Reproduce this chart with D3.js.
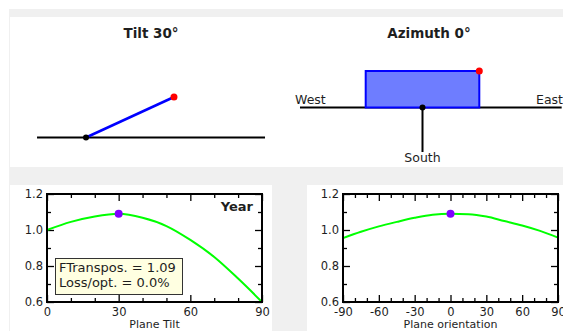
<!DOCTYPE html>
<html>
<head>
<meta charset="utf-8">
<script src="https://cdn.jsdelivr.net/npm/d3@7"></script>
<style>
  body { margin: 0; background: #fff; }
  svg { display: block; font-family: "DejaVu Sans", Verdana, sans-serif; }
</style>
</head>
<body>
<div id="chart"></div>
<script>
// plane settings
var tiltDeg = 30;
var azimuthDeg = 0;

// transposition factor vs plane tilt (Year)
var tiltX = [0, 10, 20, 30, 40, 50, 60, 70, 80, 90];
var tiltY = [1.0, 1.045, 1.075, 1.09, 1.068, 1.022, 0.945, 0.85, 0.73, 0.6];

// transposition factor vs plane orientation
var orientX = [-90, -75, -60, -45, -30, -15, 0, 15, 30, 45, 60, 75, 90];
var orientY = [0.955, 0.99, 1.02, 1.045, 1.068, 1.085, 1.09, 1.088, 1.075, 1.05, 1.025, 0.995, 0.958];

var optTilt = 30, optOrient = 0, optValue = 1.09;

var yMajor = [0.6, 0.8, 1.0, 1.2];
var yMinor = [0.7, 0.9, 1.1];
var tiltMajor = [0, 30, 60, 90];
var tiltMinor = [10, 20, 40, 50, 70, 80];
var orientMajor = [-90, -60, -30, 0, 30, 60, 90];
var orientMinor = [-80, -70, -50, -40, -20, -10, 10, 20, 40, 50, 70, 80];

var legendLines = ["FTranspos. = 1.09", "Loss/opt. = 0.0%"];

function init() {
    var w = 563, h = 331;
    var svg = d3.select("#chart").append("svg")
        .attr("width", w)
        .attr("height", h);

    // panel backgrounds
    svg.append("rect").attr("x", 9).attr("y", 9).attr("width", w - 9).attr("height", h - 9).attr("fill", "#f0f0f0");
    svg.append("rect").attr("x", 10).attr("y", 17).attr("width", w - 10).attr("height", 150).attr("fill", "#fff");
    svg.append("rect").attr("x", 10).attr("y", 185).attr("width", 262).attr("height", h - 185).attr("fill", "#fff");
    svg.append("rect").attr("x", 307).attr("y", 185).attr("width", w - 307).attr("height", h - 185).attr("fill", "#fff");

    var textCol = "#1e1e1e";

    // ---- Tilt diagram ----
    svg.append("text").attr("x", 151).attr("y", 38).attr("text-anchor", "middle")
       .attr("font-size", "13.5px").attr("font-weight", "bold").attr("fill", textCol)
       .text("Tilt " + tiltDeg + "°");

    var tx = d3.scaleLinear().domain([0, 1]).range([86, 187.6]);
    var ty = d3.scaleLinear().domain([0, 1]).range([137.5, 56.5]);
    var rad = tiltDeg * Math.PI / 180;
    svg.append("line").attr("x1", tx(-0.482)).attr("x2", tx(1.762))
       .attr("y1", ty(0)).attr("y2", ty(0)).attr("stroke", "#000").attr("stroke-width", 2);
    svg.append("line").attr("x1", tx(0)).attr("y1", ty(0))
       .attr("x2", tx(Math.cos(rad))).attr("y2", ty(Math.sin(rad)))
       .attr("stroke", "#0000ff").attr("stroke-width", 2.5);
    svg.append("circle").attr("cx", tx(0)).attr("cy", ty(0)).attr("r", 3).attr("fill", "#000");
    svg.append("circle").attr("cx", tx(Math.cos(rad))).attr("cy", ty(Math.sin(rad))).attr("r", 3.5).attr("fill", "#ff0000");

    // ---- Azimuth diagram ----
    svg.append("text").attr("x", 429).attr("y", 38).attr("text-anchor", "middle")
       .attr("font-size", "13.5px").attr("font-weight", "bold").attr("fill", textCol)
       .text("Azimuth " + azimuthDeg + "°");

    var ax = d3.scaleLinear().domain([0, 1]).range([422.5, 479.3]);
    var ay = d3.scaleLinear().domain([0, 1]).range([107.5, 71]);
    svg.append("line").attr("x1", ax(-2.157)).attr("x2", ax(2.45))
       .attr("y1", ay(0)).attr("y2", ay(0)).attr("stroke", "#000").attr("stroke-width", 2);
    svg.append("line").attr("x1", ax(0)).attr("x2", ax(0))
       .attr("y1", ay(0)).attr("y2", ay(-1.22)).attr("stroke", "#000").attr("stroke-width", 2);
    svg.append("rect").attr("x", ax(-1)).attr("y", ay(1))
       .attr("width", ax(1) - ax(-1)).attr("height", ay(0) - ay(1))
       .attr("fill", "#6e7dff").attr("stroke", "#0000ff").attr("stroke-width", 2);
    svg.append("circle").attr("cx", ax(0)).attr("cy", ay(0)).attr("r", 3).attr("fill", "#000");
    svg.append("circle").attr("cx", ax(1)).attr("cy", ay(1)).attr("r", 3.5).attr("fill", "#ff0000");
    svg.append("text").attr("x", 295).attr("y", 104).attr("font-size", "12.5px").attr("fill", textCol).text("West");
    svg.append("text").attr("x", 536).attr("y", 104).attr("font-size", "12.5px").attr("fill", textCol).text("East");
    svg.append("text").attr("x", ax(0)).attr("y", 162).attr("text-anchor", "middle")
       .attr("font-size", "12.5px").attr("fill", textCol).text("South");

    // ---- factor plots ----
    var yScale = d3.scaleLinear().domain([0.6, 1.2]).range([302, 194]);
    var xTilt = d3.scaleLinear().domain([0, 90]).range([47, 262]);
    var xOrient = d3.scaleLinear().domain([-90, 90]).range([343, 558]);

    var intFmt = function(d) { return String(d); }; // plain hyphen minus

    function plot(xScale, xs, ys, major, minor, title, optX) {
        var g = svg.append("g");
        var x0 = xScale.range()[0], x1 = xScale.range()[1];
        var y0 = yScale.range()[1], y1 = yScale.range()[0];

        function axisSet(axisFn, scale, maj, mino, tr, labels) {
            var a1 = g.append("g").attr("transform", tr)
                .call(axisFn(scale).tickValues(mino).tickSize(-4).tickFormat(""));
            var a2 = g.append("g").attr("transform", tr)
                .call(axisFn(scale).tickValues(maj).tickSize(-7).tickPadding(axisFn === d3.axisBottom ? 6 : 4)
                    .tickFormat(labels ? labels : ""));
            [a1, a2].forEach(function(a) {
                a.select(".domain").remove();
                a.selectAll("line").attr("stroke", "#000").attr("stroke-width", 1.3);
                a.selectAll("text").attr("fill", textCol).attr("font-size", "11.5px")
                 .attr("font-family", "DejaVu Sans, Verdana, sans-serif");
            });
        }
        axisSet(d3.axisBottom, xScale, major, minor, "translate(0," + y1 + ")", intFmt);
        axisSet(d3.axisTop, xScale, major, minor, "translate(0," + y0 + ")", null);
        axisSet(d3.axisLeft, yScale, yMajor, yMinor, "translate(" + x0 + ",0)", d3.format(".1f"));
        axisSet(d3.axisRight, yScale, yMajor, yMinor, "translate(" + x1 + ",0)", null);

        var line = d3.line()
            .x(function(d, i) { return xScale(xs[i]); })
            .y(function(d) { return yScale(d); })
            .curve(d3.curveMonotoneX);
        g.append("path").datum(ys).attr("d", line)
            .attr("fill", "none").attr("stroke", "#00ff00").attr("stroke-width", 2);

        g.append("rect").attr("x", x0).attr("y", y0).attr("width", x1 - x0).attr("height", y1 - y0)
            .attr("fill", "none").attr("stroke", "#000").attr("stroke-width", 2);

        g.append("circle").attr("cx", xScale(optX)).attr("cy", yScale(optValue)).attr("r", 4).attr("fill", "#8000ff");

        g.append("text").attr("x", (x0 + x1) / 2).attr("y", 328).attr("text-anchor", "middle")
            .attr("font-size", "11px").attr("fill", textCol).text(title);
        return g;
    }

    var g1 = plot(xTilt, tiltX, tiltY, tiltMajor, tiltMinor, "Plane Tilt", optTilt);
    plot(xOrient, orientX, orientY, orientMajor, orientMinor, "Plane orientation", optOrient);

    g1.append("text").attr("x", 253).attr("y", 211).attr("text-anchor", "end")
      .attr("font-size", "13px").attr("font-weight", "bold").attr("fill", textCol).text("Year");

    // legend box
    g1.append("rect").attr("x", 55.5).attr("y", 258.5).attr("width", 127).attr("height", 36)
      .attr("fill", "#ffffe1").attr("stroke", "#333").attr("stroke-width", 1);
    g1.selectAll(".leg").data(legendLines).enter().append("text")
      .attr("x", 59).attr("y", function(d, i) { return 272 + i * 15; })
      .attr("font-size", "13px").attr("fill", textCol).text(function(d) { return d; });
}

window.onload = init;
</script>
</body>
</html>
